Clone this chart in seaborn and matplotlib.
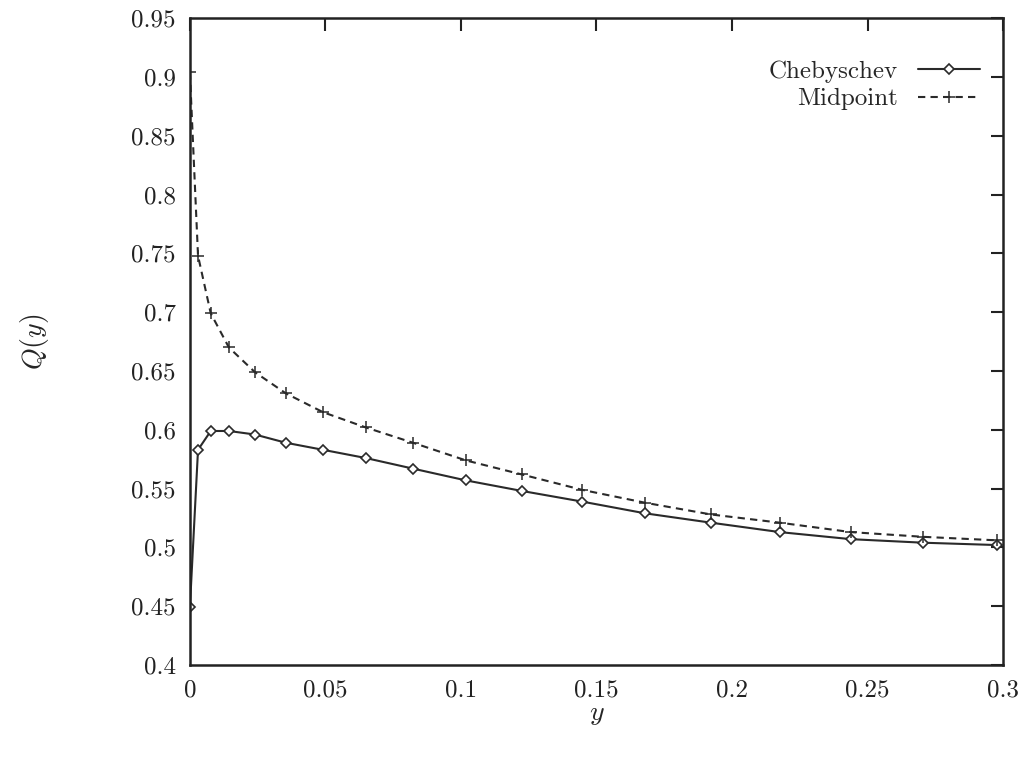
import matplotlib
matplotlib.use("Agg")
import matplotlib.pyplot as plt
import seaborn as sns
import pandas as pd

# Data
y_cheb = [0.0, 0.0030, 0.0077, 0.0144, 0.0240, 0.0354, 0.0491, 0.0649, 0.0823,
          0.1018, 0.1225, 0.1446, 0.1679, 0.1923, 0.2177, 0.2439, 0.2705, 0.2978]
q_cheb = [0.449, 0.583, 0.599, 0.599, 0.596, 0.589, 0.583, 0.576, 0.567,
          0.557, 0.548, 0.539, 0.529, 0.521, 0.513, 0.507, 0.504, 0.502]
y_mid = y_cheb
q_mid = [0.904, 0.748, 0.699, 0.670, 0.649, 0.631, 0.615, 0.602, 0.589,
         0.574, 0.562, 0.549, 0.538, 0.528, 0.521, 0.513, 0.509, 0.506]
x_ticks = [0, 0.05, 0.1, 0.15, 0.2, 0.25, 0.3]
x_ticklabels = ["0", "0.05", "0.1", "0.15", "0.2", "0.25", "0.3"]
y_ticks = [0.4, 0.45, 0.5, 0.55, 0.6, 0.65, 0.7, 0.75, 0.8, 0.85, 0.9, 0.95]
y_ticklabels = ["0.4", "0.45", "0.5", "0.55", "0.6", "0.65", "0.7", "0.75",
                "0.8", "0.85", "0.9", "0.95"]

sns.set_style("white")
plt.rcParams['font.family'] = ['cmr10', 'DejaVu Serif']
plt.rcParams['mathtext.fontset'] = 'cm'
plt.rcParams['axes.formatter.use_mathtext'] = True

df_c = pd.DataFrame({"y": y_cheb, "Q": q_cheb})
df_m = pd.DataFrame({"y": y_mid, "Q": q_mid})

fig = plt.figure(figsize=(10.32, 7.6), dpi=100)
ax = fig.add_axes([0.184, 0.125, 0.788, 0.851])

col = "#2a2a2a"
sns.lineplot(data=df_c, x="y", y="Q", ax=ax, color=col, lw=1.5, marker="D",
             markersize=5, markerfacecolor="white", markeredgecolor=col,
             markeredgewidth=1.2, label="Chebyschev", sort=False)
sns.lineplot(data=df_m, x="y", y="Q", ax=ax, color=col, lw=1.5, marker="+",
             markersize=9, markeredgewidth=1.1, markeredgecolor=col,
             linestyle=(0, (3.5, 2.5)), label="Midpoint", sort=False)

ax.set_xlim(0, 0.3)
ax.set_ylim(0.4, 0.95)
ax.set_xticks(x_ticks)
ax.set_xticklabels(x_ticklabels)
ax.set_yticks(y_ticks)
ax.set_yticklabels(y_ticklabels)
ax.tick_params(direction="in", length=9, width=1.5, top=True, right=True,
               labelsize=18, pad=10, colors="#222222")
for s in ax.spines.values():
    s.set_linewidth(1.8)
    s.set_color("#222222")

ax.set_xlabel(r"$y$", fontsize=20, labelpad=0)
ax.set_ylabel(r"$Q(y)$", fontsize=20, labelpad=58)

leg = ax.legend(loc="upper right", frameon=False, markerfirst=False,
                fontsize=18, handlelength=2.5, handletextpad=0.8,
                borderaxespad=0, borderpad=0, labelspacing=0.2,
                bbox_to_anchor=(0.972, 0.935))
ax.grid(False)

fig.savefig("out.png", dpi=100, facecolor="white")
